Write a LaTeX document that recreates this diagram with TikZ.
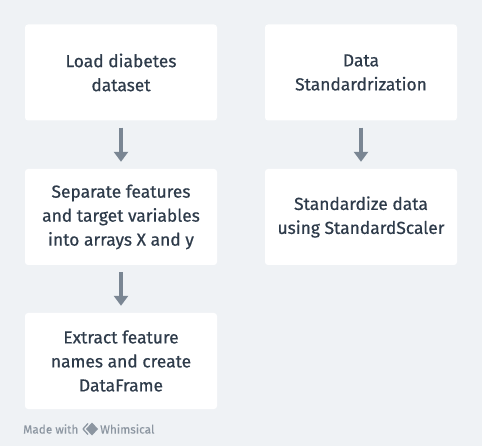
\documentclass[tikz,border=0pt]{standalone}
\usepackage{fontspec}
\setmainfont[FakeBold=0.6]{Fira Sans}
\newfontfamily\footfont[FakeBold=0.25]{Fira Sans}
\usetikzlibrary{arrows.meta}
\definecolor{bg}{HTML}{EFF2F5}
\definecolor{txt}{HTML}{2E3B4A}
\definecolor{arr}{HTML}{7A8693}
\definecolor{foot}{HTML}{8C96A1}
\begin{document}
\begin{tikzpicture}[x=1pt,y=-1pt,
  box/.style={fill=white,rounded corners=3pt,minimum width=192pt,minimum height=96pt,
    text=txt,align=center,font=\fontsize{17.4}{24}\selectfont,inner sep=0pt},
  flow/.style={draw=arr,line width=4pt,-{Triangle[width=14pt,length=10pt]},
    shorten <=7pt,shorten >=7pt},
  footer/.style={anchor=west,inner sep=0pt,text=foot,font=\footfont\fontsize{11.8}{12}\selectfont}]
\fill[bg] (0,0) rectangle (482,446);
\useasboundingbox (0,0) rectangle (482,446);
\node[box] (a) at (121,72.5) {Load diabetes\\dataset};
\node[box] (b) at (121,217) {Separate features\\and target variables\\into arrays X and y};
\node[box] (c) at (121,361) {Extract feature\\names and create\\DataFrame};
\node[box] (d) at (361,72.5) {Data\\Standardrization};
\node[box] (e) at (361,217) {Standardize data\\using StandardScaler};
\draw[flow] (a) -- (b);
\draw[flow] (b) -- (c);
\draw[flow] (d) -- (e);
\node[footer] (m) at (23,429) {Made with};
\node[footer] (w) at (100,429) {Whimsical};
\draw[foot,line width=1.3pt,line join=round] (88,423.5) -- (83,429) -- (88,434.5);
\fill[foot] (92,422.5) -- (98,429) -- (92,435.5) -- (86,429) -- cycle;
\end{tikzpicture}
\end{document}
